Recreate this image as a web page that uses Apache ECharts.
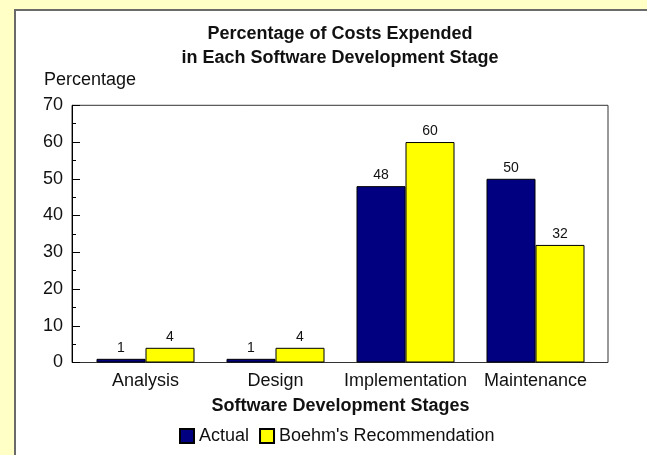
<!DOCTYPE html>
<html>
<head>
<meta charset="utf-8">
<script src="https://cdn.jsdelivr.net/npm/echarts@6/dist/echarts.min.js"></script>
<style>
  html, body { margin: 0; padding: 0; background: #FFFFC6; }
  #chart { width: 647px; height: 455px; }
</style>
</head>
<body>
<div id="chart"></div>
<script>
// Stage categories and the two percentage series
const stages = ['Analysis', 'Design', 'Implementation', 'Maintenance'];
const actual = [1, 1, 48, 50];
const boehm = [4, 4, 60, 32];
const seriesNames = ['Actual', "Boehm's Recommendation"];
const yTicks = { min: 0, max: 70, interval: 10 };

const FONT = '"Liberation Sans", Arial, Helvetica, sans-serif';
const chart = echarts.init(document.getElementById('chart'), null, { renderer: 'canvas' });

const plotTop = 105.3;
const plotBottom = 92.5;

function barSeries(name, data, color) {
  return {
    name: name,
    type: 'bar',
    data: data,
    barWidth: 49,
    barGap: '0%',
    itemStyle: { color: color, borderColor: '#000', borderWidth: 1 },
    label: {
      show: true,
      position: 'top',
      distance: 4,
      fontFamily: FONT,
      fontSize: 14,
      color: '#111'
    }
  };
}

chart.setOption({
  animation: false,
  backgroundColor: '#FFFFC6',
  textStyle: { fontFamily: FONT },
  graphic: [{
    type: 'rect',
    z: -10,
    silent: true,
    shape: { x: 15, y: 10, width: 700, height: 500 },
    style: { fill: '#ffffff', stroke: '#6a6a6a', lineWidth: 2 }
  }],
  title: [{
    text: 'Percentage of Costs Expended\nin Each Software Development Stage',
    left: 340,
    top: 22,
    textAlign: 'center',
    padding: 0,
    textStyle: { fontFamily: FONT, fontSize: 18, fontWeight: 'bold', lineHeight: 24, color: '#111' }
  }, {
    text: 'Percentage',
    left: 44,
    top: 71,
    padding: 0,
    textStyle: { fontFamily: FONT, fontSize: 18, fontWeight: 'normal', color: '#111' }
  }],
  legend: {
    data: seriesNames,
    left: 179,
    top: 427,
    width: 440,
    orient: 'horizontal',
    icon: 'rect',
    itemWidth: 14,
    itemHeight: 14,
    itemGap: 10,
    padding: 0,
    textStyle: { fontFamily: FONT, fontSize: 18, color: '#111' },
    selectedMode: false
  },
  grid: [
    // data area
    { left: 80.5, right: 46.5, top: plotTop, bottom: plotBottom, containLabel: false },
    // outer frame of the plot
    { left: 72, right: 39, top: plotTop, bottom: plotBottom, show: true, borderColor: '#333', borderWidth: 1, backgroundColor: 'transparent', z: 0 }
  ],
  xAxis: [{
    gridIndex: 0,
    type: 'category',
    data: stages,
    boundaryGap: true,
    axisLine: { show: false },
    axisTick: { show: false },
    axisLabel: { interval: 0, fontFamily: FONT, fontSize: 18, color: '#111', margin: 10 },
    name: 'Software Development Stages',
    nameLocation: 'middle',
    nameGap: 35,
    nameTextStyle: { fontFamily: FONT, fontSize: 18, fontWeight: 'bold', color: '#111' }
  }, {
    gridIndex: 1, type: 'value', show: false
  }],
  yAxis: [{
    gridIndex: 0,
    type: 'value',
    min: yTicks.min,
    max: yTicks.max,
    interval: yTicks.interval,
    offset: 8.5,
    axisLine: { show: true, lineStyle: { color: '#000', width: 1 } },
    axisTick: { show: true, inside: true, length: 8, lineStyle: { color: '#000' } },
    minorTick: { show: true, splitNumber: 2, length: 4, lineStyle: { color: '#000' } },
    splitLine: { show: false },
    axisLabel: { fontFamily: FONT, fontSize: 18, color: '#111', margin: 9 }
  }, {
    gridIndex: 1, type: 'value', show: false
  }],
  series: [
    barSeries(seriesNames[0], actual, '#000080'),
    barSeries(seriesNames[1], boehm, '#FFFF00')
  ]
});
</script>
</body>
</html>
